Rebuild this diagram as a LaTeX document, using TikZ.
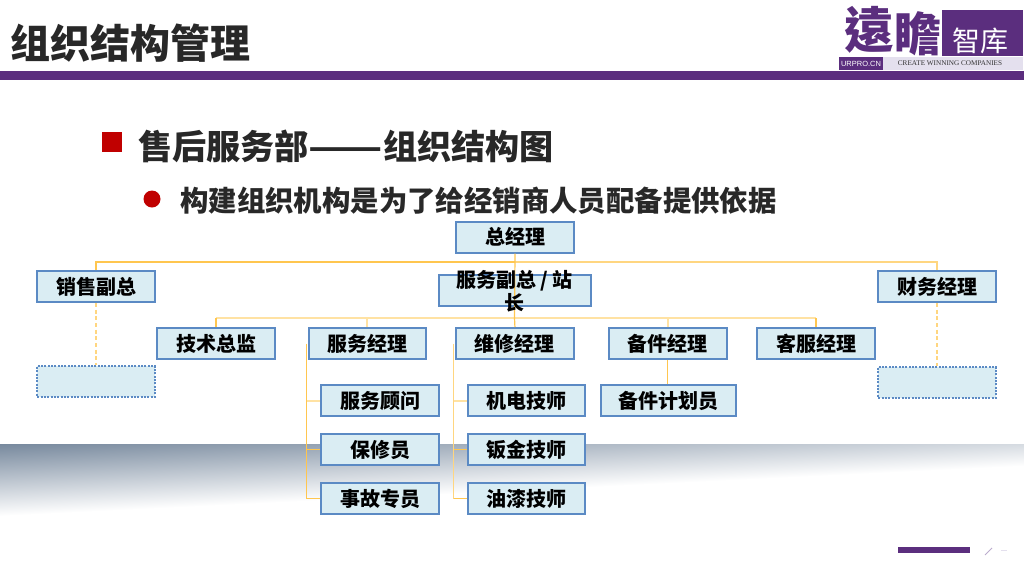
\documentclass[tikz,border=0pt]{standalone}
\usepackage{fontspec}
\setmainfont{Noto Sans CJK SC}
\newfontfamily\logofont{Noto Sans CJK TC}
\newfontfamily\sloganfont{Liberation Serif}
\newfontfamily\urlfont{Liberation Sans}
\usetikzlibrary{positioning, calc}
\definecolor{themepurple}{HTML}{5B2E7E}
\definecolor{palepurple}{HTML}{E4E0EE}
\definecolor{boxblue}{HTML}{5B8AC4}
\definecolor{boxfill}{HTML}{DAEDF3}
\definecolor{linkgold}{HTML}{FFC64F}
\definecolor{linkmid}{HTML}{FFD680}
\definecolor{linkpale}{HTML}{FFE2A3}
\definecolor{bandgray}{HTML}{74869B}
\definecolor{textdark}{HTML}{282828}
\definecolor{markred}{HTML}{C00000}

\begin{document}
\begin{tikzpicture}[
    x=0.75pt, y=-0.75pt,
    % Chart boxes
    orgbox/.style={
        draw=boxblue, line width=1.5pt,
        rectangle, fill=boxfill,
        minimum width=88pt, minimum height=23.25pt,
        inner sep=0pt, align=center,
        font=\fontsize{15}{17.25}\selectfont\bfseries
    },
    % Empty boxes at the sides
    emptybox/.style={orgbox, densely dotted},
    % Connector styles
    link/.style={draw=linkgold, line width=0.9pt},
    linkthin/.style={draw=linkmid, line width=0.9pt},
    linkwide/.style={draw=linkpale, line width=1.5pt},
    linkdash/.style={draw=linkmid, line width=0.9pt, densely dashed},
    % Heading text
    headline/.style={anchor=west, inner sep=0pt, text=textdark, font=\bfseries}
]
\useasboundingbox (0,0) rectangle (1024,576);

% Gray band behind the chart
\begin{scope}
    \clip (0,444) rectangle (1024,576);
    \begin{scope}[transform canvas={shift={(0,516)}, rotate=2.8}]
        \shade[top color=bandgray, bottom color=white] (-60,-74) rectangle (1200,0);
    \end{scope}
\end{scope}

% Header
\node[headline, font=\fontsize{30}{36}\selectfont\bfseries] (title) at (10,43.5) {组织结构管理};
\fill[themepurple] (0,71) rectangle (1024,80);

% Logo
\fill[themepurple] (942,10) rectangle (1023,56);
\fill[themepurple] (839,57) rectangle (883,70);
\fill[palepurple] (883,57) rectangle (1023,70);
\node[text=themepurple, font=\logofont\fontsize{37}{40}\selectfont\bfseries] (logoa) at (869,30) {遠};
\node[text=themepurple, font=\logofont\fontsize{35}{40}\selectfont\bfseries] (logob) at (918,34) {瞻};
\node[text=white, font=\fontsize{21}{24}\selectfont] (logoc) at (980,41) {智库};
\node[text=white, font=\urlfont\fontsize{5.6}{6}\selectfont] (logod) at (861,63.5) {URPRO.CN};
\node[text=black!80, font=\sloganfont\fontsize{5.4}{6}\selectfont] (logoe) at (950,63.5) {CREATE WINNING COMPANIES};

% Bullet lines
\fill[markred] (102,132) rectangle (122,152);
\node[headline, font=\fontsize{25.6}{30}\selectfont\bfseries] (head) at (138,146) {售后服务部\scalebox{1.27}[1]{——}组织结构图};
\fill[markred] (152,199) circle (8.5);
\node[headline, font=\fontsize{21.3}{26}\selectfont\bfseries] (sub) at (180,201) {构建组织机构是为了给经销商人员配备提供依据};

% Top of the chart
\node[orgbox] (gm) at (515,237) {总经理};
\node[orgbox] (sales) at (96,286.5) {销售副总};
\node[orgbox] (finance) at (937,286.5) {财务经理};
\node[orgbox, minimum width=114pt] (vp) at (514.5,290.5) {};

% Empty boxes
\node[emptybox] (salesx) at (96,381.5) {};
\node[emptybox] (financex) at (937,382.5) {};

% Manager row
\node[orgbox] (tech) at (216,343.5) {技术总监};
\node[orgbox, right=24pt of tech] (service) {服务经理};
\node[orgbox, right=21.2pt of service] (repair) {维修经理};
\node[orgbox, right=25.2pt of repair] (parts) {备件经理};
\node[orgbox, right=21.6pt of parts] (care) {客服经理};

% Staff under the service manager
\node[orgbox] (advisor) at (380,400.5) {服务顾问};
\node[orgbox, below=12pt of advisor] (warranty) {保修员};
\node[orgbox, below=12pt of warranty] (claims) {事故专员};

% Staff under the repair manager
\node[orgbox] (electric) at (526.5,400.5) {机电技师};
\node[orgbox, below=12pt of electric] (sheet) {钣金技师};
\node[orgbox, below=12pt of sheet] (paint) {油漆技师};

% Parts planner
\node[orgbox, minimum width=101.5pt] (planner) at (668.5,400.5) {备件计划员};

% Bus coordinates
\coordinate (busa) at (514.5,262);
\coordinate (busb) at (514.5,318);
\coordinate (trunka) at (306.5,343.5);
\coordinate (trunkb) at (453.5,343.5);

% Upper bus
\draw[link] (busa) -| (sales.north);
\draw[linkthin] (busa) -| (finance.north);

% Lower bus
\draw[linkwide] (tech.north |- busb) -- (care.north |- busb);
\draw[link] (gm.south) -- (busb);
\draw[link] (busb) -- (repair.north);
\draw[link] (tech.north |- busb) -- (tech.north);
\draw[linkwide] (service.north |- busb) -- (service.north);
\draw[linkwide] (parts.north |- busb) -- (parts.north);
\draw[link] (care.north |- busb) -- (care.north);

% Staff branches
\draw[link] (trunka) -- (trunka |- claims);
\draw[linkwide] (trunka |- advisor) -- (advisor.west);
\draw[link] (trunka |- warranty) -- (warranty.west);
\draw[link] (trunka |- claims) -- (claims.west);
\draw[linkthin] (trunkb) -- (trunkb |- paint);
\draw[linkwide] (trunkb |- electric) -- (electric.west);
\draw[link] (trunkb |- sheet) -- (sheet.west);
\draw[link] (trunkb |- paint) -- (paint.west);
\draw[link] (parts.south) -- (planner.north -| parts.south);

% Dashed links
\draw[linkdash] (sales.south) -- (salesx.north);
\draw[linkdash] (finance.south) -- (financex.north);

% Text that runs over its box
\node[align=center, font=\fontsize{15}{17.25}\selectfont\bfseries] (vplabel) at (514.5,291.5) {服务副总 / 站\\长};

% Footer marks
\fill[themepurple] (898,547) rectangle (970,553);
\coordinate (slasha) at (985,555);
\coordinate (slashb) at (992,548);
\coordinate (dasha) at (1001,550.5);
\coordinate (dashb) at (1007,550.5);
\draw[palepurple!70!themepurple, line width=0.7pt] (slasha) -- (slashb);
\draw[palepurple, line width=0.7pt] (dasha) -- (dashb);

\end{tikzpicture}
\end{document}
